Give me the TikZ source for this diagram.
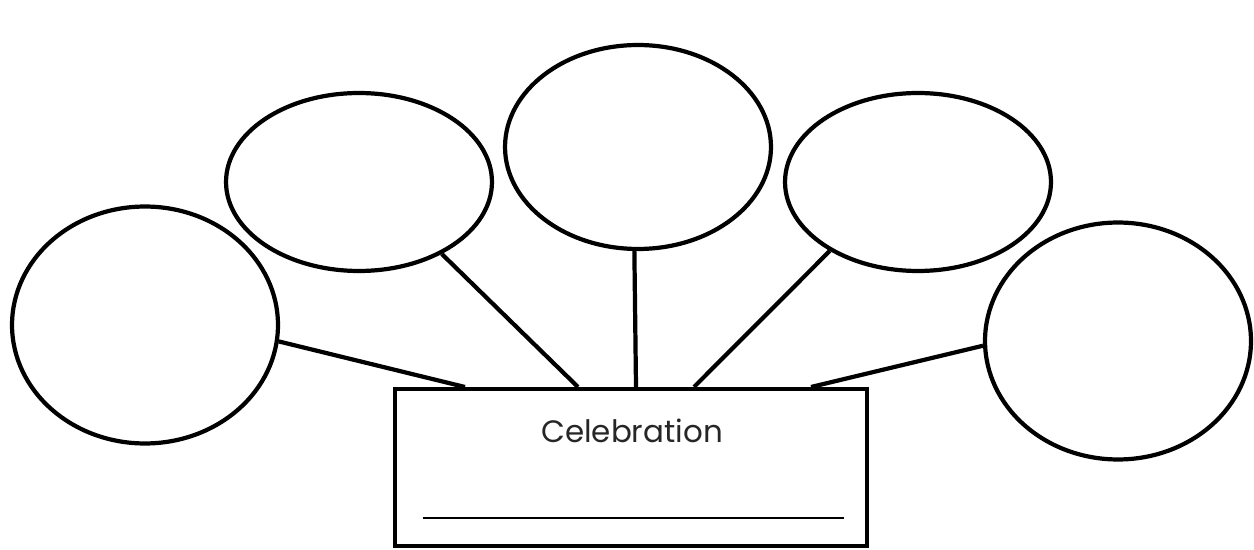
\documentclass[tikz,border=0pt]{standalone}
\usepackage{fontspec}
\setmainfont{Poppins}
\usepackage{tikz}
\usetikzlibrary{shapes.geometric,positioning,calc}

\tikzset{
  bubble/.style={ellipse, draw, line width=2.4pt, inner sep=0pt},
  spoke/.style={line width=2.4pt},
}

\begin{document}
\begin{tikzpicture}[x=0.02cm,y=-0.02cm]
        \useasboundingbox (0,0) rectangle (1254,550);
        % the five bubbles
        \node[bubble, minimum width=5.32cm, minimum height=4.74cm] (left) at (145,325) {};
        \node[bubble, minimum width=5.32cm, minimum height=3.56cm] (midleft) at (359,182) {};
        \node[bubble, minimum width=5.32cm, minimum height=4.08cm] (top) at (638,147) {};
        \node[bubble, minimum width=5.32cm, minimum height=3.56cm] (midright) at (918,182) {};
        \node[bubble, minimum width=5.32cm, minimum height=4.74cm] (right) at (1118,341) {};
        % the box below
        \node[draw, line width=2.4pt, minimum width=9.44cm, minimum height=3.14cm, inner sep=0pt] (box) at (631,467.5) {};
        \node[anchor=base, font=\fontsize{17.6}{21}\selectfont, text=black!85] (title) at (632,442) {Celebration};
        \draw[line width=1.7pt] (423,518) -- (844,518);
        % spokes
        \coordinate (s1) at (465,387);
        \coordinate (s2) at (578,387);
        \coordinate (s3) at (636,387);
        \coordinate (s4) at (694,387);
        \coordinate (s5) at (811,387);
        \draw[spoke] (left.-7) -- (s1);
        \draw[spoke] (midleft.-41) -- (s2);
        \draw[spoke] (top.-92) -- (s3);
        \draw[spoke] (midright.-142) -- (s4);
        \draw[spoke] (right.182) -- (s5);
      \end{tikzpicture}
\end{document}
